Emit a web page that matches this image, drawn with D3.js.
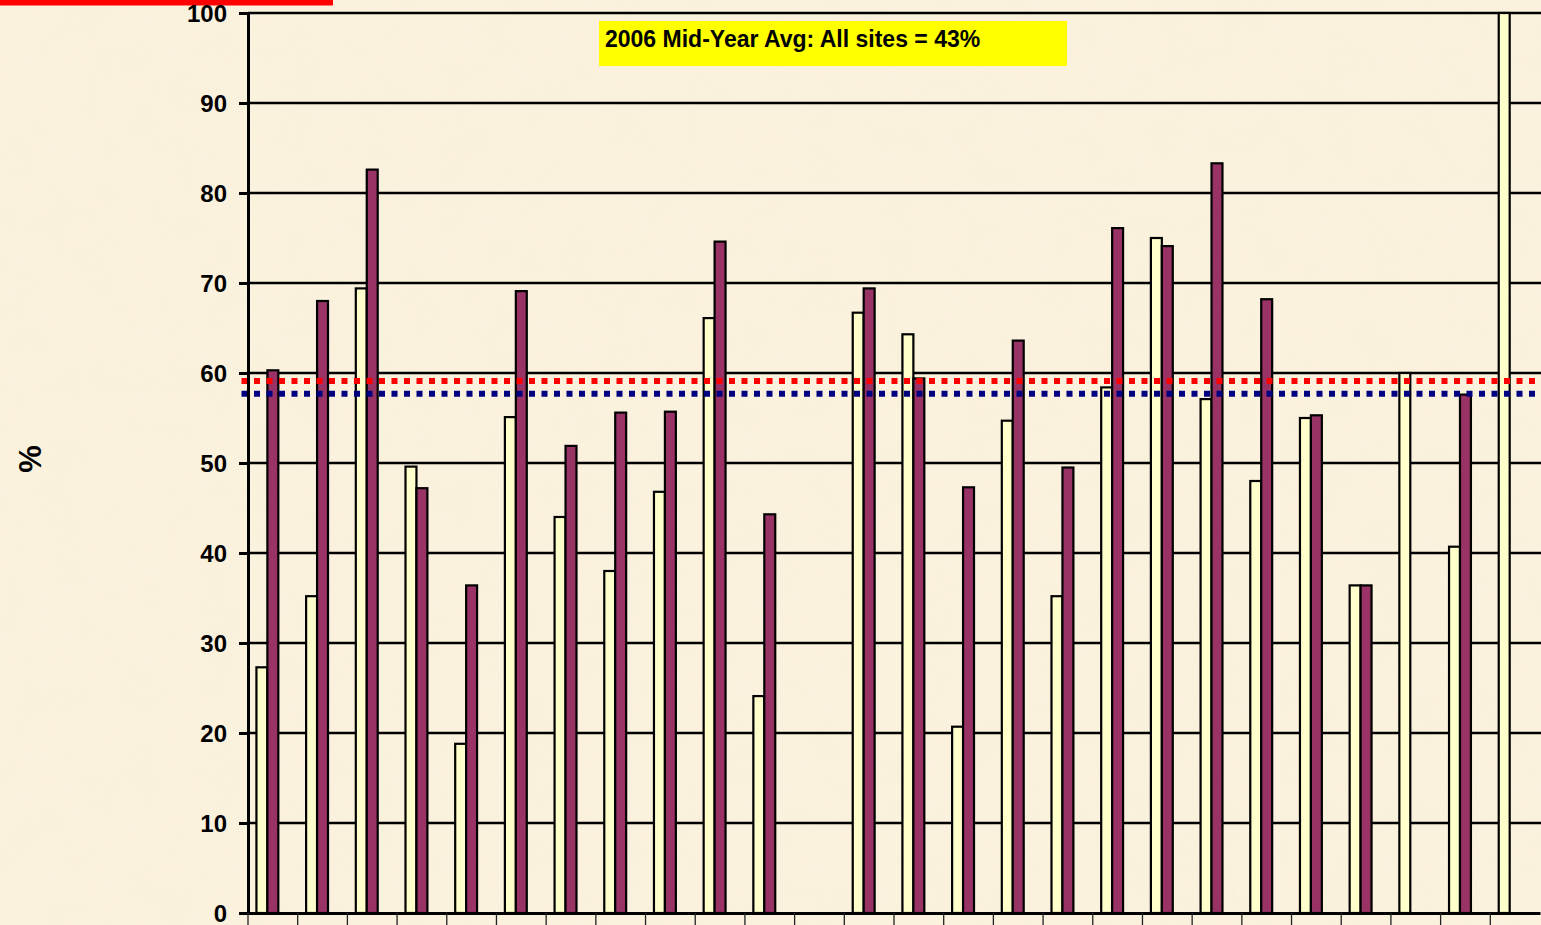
<!DOCTYPE html>
<html lang="en">
<head>
  <meta charset="UTF-8">
  <title>Site percentages</title>
  <script src="https://d3js.org/d3.v7.min.js"></script>
  <style>
    body {
      margin: 0;
      overflow: hidden;
      background-color: #faf0da;
      font-family: "Liberation Sans", Arial, sans-serif;
    }
    svg {
      display: block;
    }
    .ylabel {
      font-size: 24px;
      font-weight: bold;
      fill: #000;
    }
  </style>
</head>
<body>
<svg></svg>
<script>
  // sites along the x axis (names are cut off in the original)
  const sites = d3.range(1, 27).map(i => "Site " + i);
  const seriesKeys = ["prior", "midYear", "spare"];
  // light yellow bars
  const priorValues = [27.3, 35.2, 69.4, 49.6, 18.8, 55.1, 44.0, 38.0, 46.8, 66.1, 24.1, null, 66.7,
    64.3, 20.7, 54.7, 35.2, 58.4, 75.0, 57.1, 48.0, 55.0, 36.4, 60.0, 40.7, 100];
  // purple bars
  const midYearValues = [60.3, 68.0, 82.6, 47.2, 36.4, 69.1, 51.9, 55.6, 55.7, 74.6, 44.3, null, 69.4,
    59.4, 47.3, 63.6, 49.5, 76.1, 74.1, 83.3, 68.2, 55.3, 36.4, null, 57.6, null];
  const yTicks = [0, 10, 20, 30, 40, 50, 60, 70, 80, 90, 100];
  const refLines = [
    { value: 59.1, color: "#ff0000" },
    { value: 57.7, color: "#000080" }
  ];
  const noteText = "2006 Mid-Year Avg: All sites = 43%";

  const width = 1541, height = 925;
  const margin = { left: 248, top: 13, right: 1, bottom: 12 };

  const svg = d3.select("svg").attr("width", width).attr("height", height);

  // parchment texture
  const defs = svg.append("defs");
  const f = defs.append("filter").attr("id", "paper").attr("x", 0).attr("y", 0).attr("width", "100%").attr("height", "100%");
  f.append("feTurbulence").attr("type", "fractalNoise").attr("baseFrequency", 0.025).attr("numOctaves", 3).attr("seed", 4);
  f.append("feColorMatrix").attr("type", "matrix")
          .attr("values", "0 0 0 0 0.93  0 0 0 0 0.86  0 0 0 0 0.70  0 0 0 0.35 0");
  svg.append("rect").attr("width", width).attr("height", height).attr("fill", "#fbf2de");
  svg.append("rect").attr("width", width).attr("height", height).attr("filter", "url(#paper)").attr("opacity", 0.6);

  const x0 = d3.scaleBand()
          .domain(sites)
          .range([margin.left, width - margin.right])
          .paddingInner(0)
          .paddingOuter(0);

  const x1 = d3.scaleBand()
          .domain(seriesKeys)
          .range([0, x0.bandwidth()])
          .paddingOuter(0.77)
          .paddingInner(0);

  const y = d3.scaleLinear()
          .domain([0, 100])
          .range([height - margin.bottom, margin.top]);

  // red strip at top left
  svg.append("rect").attr("x", 0).attr("y", 0).attr("width", 333).attr("height", 5.5).attr("fill", "#ff0000");

  // gridlines
  svg.append("g")
          .selectAll("line")
          .data(yTicks.filter(d => d > 0))
          .join("line")
          .attr("x1", margin.left)
          .attr("x2", width)
          .attr("y1", d => y(d))
          .attr("y2", d => y(d))
          .attr("stroke", "#000")
          .attr("stroke-width", 2.5);

  // bars
  const rows = sites.map((s, i) => ({ site: s, prior: priorValues[i], midYear: midYearValues[i] }));
  const colors = { prior: "#ffffcc", midYear: "#993366" };

  svg.append("g")
          .selectAll("g")
          .data(rows)
          .join("g")
          .attr("transform", d => `translate(${x0(d.site)},0)`)
          .selectAll("rect")
          .data(d => ["prior", "midYear"].filter(k => d[k] != null).map(k => ({ key: k, value: d[k] })))
          .join("rect")
          .attr("x", d => x1(d.key))
          .attr("width", x1.bandwidth())
          .attr("y", d => y(d.value))
          .attr("height", d => y(0) - y(d.value))
          .attr("fill", d => colors[d.key])
          .attr("stroke", "#000")
          .attr("stroke-width", 2.2);

  // dotted reference lines
  svg.append("g")
          .selectAll("line")
          .data(refLines)
          .join("line")
          .attr("x1", 241.5)
          .attr("x2", width)
          .attr("y1", d => y(d.value))
          .attr("y2", d => y(d.value))
          .attr("stroke", d => d.color)
          .attr("stroke-width", 6)
          .attr("stroke-dasharray", "6 6.5");

  // y axis
  const yAxis = svg.append("g")
          .attr("transform", `translate(${margin.left},0)`)
          .call(d3.axisLeft(y).tickValues(yTicks).tickSize(9).tickPadding(12).tickFormat(d3.format("d")));
  yAxis.select(".domain").attr("stroke", "#000").attr("stroke-width", 3);
  yAxis.selectAll(".tick line").attr("stroke", "#000").attr("stroke-width", 3);
  yAxis.selectAll(".tick text").attr("class", "ylabel").attr("dy", "0.36em");

  // x axis (labels fall below the visible area)
  const xAxis = svg.append("g")
          .attr("transform", `translate(0,${y(0)})`)
          .call(d3.axisBottom(x0).tickSize(0).tickFormat(""));
  xAxis.select(".domain").attr("stroke", "#000").attr("stroke-width", 3);
  svg.append("g")
          .selectAll("line")
          .data(sites)
          .join("line")
          .attr("x1", d => x0(d))
          .attr("x2", d => x0(d))
          .attr("y1", y(0))
          .attr("y2", height + 5)
          .attr("stroke", "#222")
          .attr("stroke-width", 1.3);

  // y title
  svg.append("text")
          .attr("transform", "translate(41,459) rotate(-90)")
          .attr("text-anchor", "middle")
          .attr("font-size", 31)
          .attr("font-weight", "bold")
          .text("%");

  // note box
  svg.append("rect")
          .attr("x", 599).attr("y", 21).attr("width", 468).attr("height", 45)
          .attr("fill", "#ffff00");
  svg.append("text")
          .attr("x", 605).attr("y", 46.5)
          .attr("font-size", 23)
          .attr("font-weight", "bold")
          .text(noteText);
</script>
</body>
</html>
